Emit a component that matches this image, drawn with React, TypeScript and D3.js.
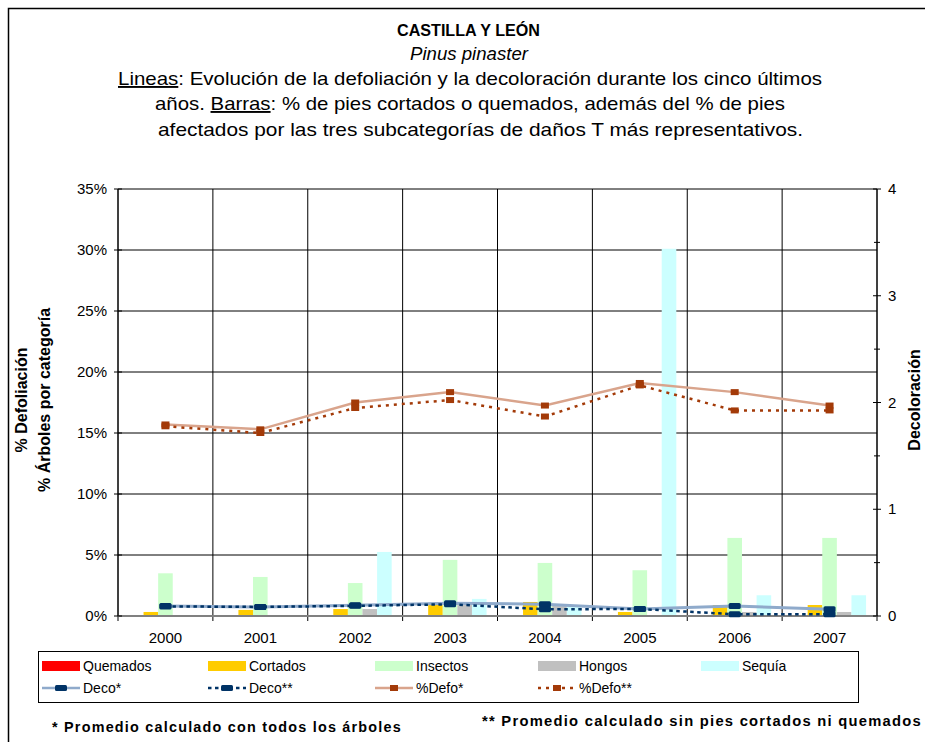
import React from "react";
import * as d3 from "d3";

const years = ["2000", "2001", "2002", "2003", "2004", "2005", "2006", "2007"];
const barSeries = ["Quemados", "Cortados", "Insectos", "Hongos", "Sequía"];
const quemados = [0, 0, 0, 0, 0, 0, 0, 0];
const cortados = [0.33, 0.5, 0.57, 0.9, 1.15, 0.33, 0.9, 0.9];
const insectos = [3.5, 3.2, 2.7, 4.6, 4.35, 3.75, 6.4, 6.4];
const hongos = [0, 0, 0.57, 0.9, 0.9, 0, 0.33, 0.33];
const sequia = [0, 0, 5.25, 1.4, 0.9, 30.1, 1.7, 1.7];
const decoAll = [0.094, 0.084, 0.1, 0.12, 0.11, 0.066, 0.094, 0.063];
const decoNoCut = [0.09, 0.085, 0.095, 0.11, 0.063, 0.066, 0.016, 0.016];
const defoAll = [15.7, 15.3, 17.5, 18.35, 17.25, 19.1, 18.35, 17.25];
const defoNoCut = [15.55, 15.0, 17.05, 17.7, 16.35, 18.9, 16.85, 16.85];
const leftTicks = [0, 5, 10, 15, 20, 25, 30, 35];
const rightTicks = [0, 1, 2, 3, 4];
const rightMinorTicks = [0.5, 1.5, 2.5, 3.5];

const barValues = [quemados, cortados, insectos, hongos, sequia];
const barColors = ["#FF0000", "#FFCC00", "#CCFFCC", "#C0C0C0", "#CCFFFF"];

const FONT = "'Liberation Sans', Arial, sans-serif";

export default function App() {
  const L = 118, R = 877, T = 189, B = 616;
  const x = d3.scaleBand<string>().domain(years).range([L, R]).padding(0);
  const inner = d3
    .scaleBand<string>()
    .domain(barSeries)
    .range([0, x.bandwidth()])
    .paddingInner(0)
    .paddingOuter(0.75);
  const yL = d3.scaleLinear().domain([0, 35]).range([B, T]);
  const yR = d3.scaleLinear().domain([0, 4]).range([B, T]);
  const cx = (i: number) => (x(years[i]) as number) + x.bandwidth() / 2;

  const lineR = d3
    .line<number>()
    .x((_, i) => cx(i))
    .y((d) => yR(d));
  const lineL = d3
    .line<number>()
    .x((_, i) => cx(i))
    .y((d) => yL(d));

  const boundaries = years.map((y) => x(y) as number).concat([R]);

  const legendCols = [42, 208, 375, 538, 701];
  const row1 = 666;
  const row2 = 688;

  const decoLine = "#8FAACB";
  const decoMark = "#003366";
  const defoLine = "#D9A48C";
  const defoMark = "#A33A08";

  return (
    <svg
      width={925}
      height={742}
      style={{ position: "absolute", left: 0, top: 0, background: "#fff" }}
      fontFamily={FONT}
    >
      <rect x={0} y={0} width={925} height={742} fill="#fff" />
      <rect x={8.5} y={8.5} width={1000} height={1000} fill="none" stroke="#000" strokeWidth={1.5} />

      {/* Titles */}
      <text x={397} y={36} fontSize={17} fontWeight="bold" textLength={143} lengthAdjust="spacingAndGlyphs">
        CASTILLA Y LEÓN
      </text>
      <text x={410} y={60} fontSize={18} fontStyle="italic" textLength={118} lengthAdjust="spacingAndGlyphs">
        Pinus pinaster
      </text>
      <text x={118} y={85} fontSize={19} textLength={704} lengthAdjust="spacingAndGlyphs">
        <tspan textDecoration="underline">Lineas</tspan>: Evolución de la defoliación y la decoloración durante los cinco últimos
      </text>
      <text x={155} y={110} fontSize={19} textLength={630} lengthAdjust="spacingAndGlyphs">
        años. <tspan textDecoration="underline">Barras</tspan>: % de pies cortados o quemados, además del % de pies
      </text>
      <text x={158} y={136} fontSize={19} textLength={645} lengthAdjust="spacingAndGlyphs">
        afectados por las tres subcategorías de daños T más representativos.
      </text>

      {/* Horizontal gridlines */}
      {leftTicks.map((t) => (
        <line key={"hg" + t} x1={L} x2={R} y1={yL(t)} y2={yL(t)} stroke="#000" strokeWidth={1} />
      ))}
      {/* Vertical gridlines / x ticks */}
      {boundaries.map((bx, i) => (
        <line key={"vg" + i} x1={bx} x2={bx} y1={T} y2={B + 5} stroke="#000" strokeWidth={1} />
      ))}

      {/* Bars */}
      {years.map((yr, i) => (
        <g key={"bg" + yr}>
          {barSeries.map((s, k) => {
            const v = barValues[k][i];
            if (v <= 0) return null;
            const bx = (x(yr) as number) + (inner(s) as number);
            return (
              <rect
                key={s}
                x={bx}
                y={yL(v)}
                width={inner.bandwidth()}
                height={B - yL(v)}
                fill={barColors[k]}
              />
            );
          })}
        </g>
      ))}

      {/* x axis */}
      <line x1={L} x2={R} y1={B} y2={B} stroke="#808080" strokeWidth={2} />
      {/* left axis */}
      <line x1={L} x2={L} y1={T} y2={B} stroke="#000" strokeWidth={1} />
      {leftTicks.map((t) => (
        <g key={"lt" + t}>
          <line x1={L - 4} x2={L + 4} y1={yL(t)} y2={yL(t)} stroke="#000" />
          <text x={L - 11} y={yL(t) + 5} textAnchor="end" fontSize={15}>
            {t}%
          </text>
        </g>
      ))}
      {/* right axis */}
      <line x1={R} x2={R} y1={T} y2={B} stroke="#000" strokeWidth={1} />
      {rightTicks.map((t) => (
        <g key={"rt" + t}>
          <line x1={R - 4} x2={R + 4} y1={yR(t)} y2={yR(t)} stroke="#000" />
          <text x={R + 11} y={yR(t) + 5} textAnchor="start" fontSize={15}>
            {t}
          </text>
        </g>
      ))}
      {rightMinorTicks.map((t) => (
        <line key={"rm" + t} x1={R - 3} x2={R + 3} y1={yR(t)} y2={yR(t)} stroke="#000" />
      ))}
      {/* x labels */}
      {years.map((yr, i) => (
        <text key={"xl" + yr} x={cx(i)} y={643} textAnchor="middle" fontSize={15}>
          {yr}
        </text>
      ))}

      {/* Axis titles */}
      <text
        transform="translate(27,400) rotate(-90)"
        textAnchor="middle"
        fontSize={16}
        fontWeight="bold"
      >
        % Defoliación
      </text>
      <text
        transform="translate(50,400) rotate(-90)"
        textAnchor="middle"
        fontSize={16}
        fontWeight="bold"
      >
        % Árboles por categoría
      </text>
      <text
        transform="translate(920,400) rotate(-90)"
        textAnchor="middle"
        fontSize={16}
        fontWeight="bold"
      >
        Decoloración
      </text>

      {/* Lines */}
      <path d={lineL(defoAll) || ""} fill="none" stroke={defoLine} strokeWidth={2.5} />
      <path d={lineL(defoNoCut) || ""} fill="none" stroke={defoMark} strokeWidth={2.5} strokeDasharray="3,5" />
      <path d={lineR(decoAll) || ""} fill="none" stroke={decoLine} strokeWidth={3} />
      <path d={lineR(decoNoCut) || ""} fill="none" stroke={decoMark} strokeWidth={2.5} strokeDasharray="3.5,3.5" />
      {defoAll.map((v, i) => (
        <rect key={"dma" + i} x={cx(i) - 4} y={yL(v) - 3} width={8} height={6} fill={defoMark} />
      ))}
      {defoNoCut.map((v, i) => (
        <rect key={"dmn" + i} x={cx(i) - 4} y={yL(v) - 3} width={8} height={6} fill={defoMark} />
      ))}
      {decoAll.map((v, i) => (
        <rect key={"cma" + i} x={cx(i) - 6} y={yR(v) - 3} width={12} height={6} rx={1.5} fill={decoMark} />
      ))}
      {decoNoCut.map((v, i) => (
        <rect key={"cmn" + i} x={cx(i) - 6} y={yR(v) - 3} width={12} height={6} rx={1.5} fill={decoMark} />
      ))}

      {/* Legend */}
      <rect x={38.5} y={651.5} width={820} height={51} fill="#fff" stroke="#000" strokeWidth={1} />
      {barSeries.map((s, k) => (
        <g key={"lg" + s}>
          <rect x={legendCols[k]} y={row1 - 5} width={38} height={10} fill={barColors[k]} />
          <text x={legendCols[k] + 41} y={row1 + 5} fontSize={14}>
            {s}
          </text>
        </g>
      ))}
      <g>
        <line x1={legendCols[0]} x2={legendCols[0] + 38} y1={row2} y2={row2} stroke={decoLine} strokeWidth={2.5} />
        <rect x={legendCols[0] + 13} y={row2 - 3} width={12} height={6} rx={1.5} fill={decoMark} />
        <text x={legendCols[0] + 41} y={row2 + 5} fontSize={14}>
          Deco*
        </text>
      </g>
      <g>
        <line
          x1={legendCols[1]}
          x2={legendCols[1] + 38}
          y1={row2}
          y2={row2}
          stroke={decoMark}
          strokeWidth={2.5}
          strokeDasharray="3.5,3.5"
        />
        <rect x={legendCols[1] + 13} y={row2 - 3} width={12} height={6} rx={1.5} fill={decoMark} />
        <text x={legendCols[1] + 41} y={row2 + 5} fontSize={14}>
          Deco**
        </text>
      </g>
      <g>
        <line x1={legendCols[2]} x2={legendCols[2] + 38} y1={row2} y2={row2} stroke={defoLine} strokeWidth={2.5} />
        <rect x={legendCols[2] + 15} y={row2 - 3} width={8} height={6} fill={defoMark} />
        <text x={legendCols[2] + 41} y={row2 + 5} fontSize={14}>
          %Defo*
        </text>
      </g>
      <g>
        <line
          x1={legendCols[3]}
          x2={legendCols[3] + 38}
          y1={row2}
          y2={row2}
          stroke={defoMark}
          strokeWidth={2.5}
          strokeDasharray="3,5"
        />
        <rect x={legendCols[3] + 15} y={row2 - 3} width={8} height={6} fill={defoMark} />
        <text x={legendCols[3] + 41} y={row2 + 5} fontSize={14}>
          %Defo**
        </text>
      </g>

      {/* Footnotes */}
      <text x={52} y={732} fontSize={14} fontWeight="bold" letterSpacing={1.2} textLength={350} lengthAdjust="spacingAndGlyphs">
        * Promedio calculado con todos los árboles
      </text>
      <text x={482} y={726} fontSize={14} fontWeight="bold" letterSpacing={1.2} textLength={440} lengthAdjust="spacingAndGlyphs">
        ** Promedio calculado sin pies cortados ni quemados
      </text>
    </svg>
  );
}
